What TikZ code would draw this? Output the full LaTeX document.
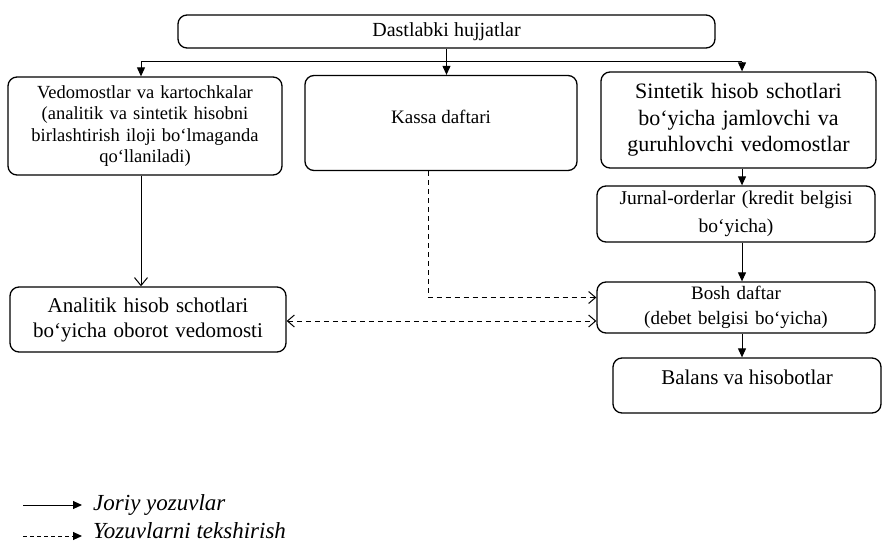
\documentclass[tikz,border=0pt]{standalone}
\usepackage{fontspec}
\setmainfont{Liberation Serif}
\usetikzlibrary{arrows.meta}

\begin{document}
\begin{tikzpicture}[x=1pt, y=-1pt,
    box/.style={draw, rounded corners=9pt, line width=1.3pt, align=center, inner xsep=4pt, inner ysep=0pt},
    flow/.style={line width=1pt, -{Triangle[length=9pt,width=8pt]}},
    open/.style={line width=1pt, -{Straight Barb[length=8pt,width=13pt]}},
    check/.style={line width=1pt, dash pattern=on 5pt off 4pt, -{Straight Barb[length=7pt,width=12pt]}},
    legend/.style={anchor=base west, inner sep=0pt, font=\fontsize{23}{28}\selectfont\itshape}]
    \useasboundingbox (0,0) rectangle (883,543);

    % draw boxes
    \node[box, minimum width=537pt, minimum height=33pt, font=\fontsize{20}{24}\selectfont] (doc) at (446.5,31.5) {Dastlabki hujjatlar};
    \node[box, text width=266pt, minimum height=98pt, font=\fontsize{18.5}{21.5}\selectfont] (ved) at (145,126)
        {Vedomostlar va kartochkalar\\ (analitik va sintetik hisobni\\ birlashtirish iloji bo‘lmaganda\\ qo‘llaniladi)};
    \node[box, minimum width=272pt, text height=48pt, text depth=47pt, font=\fontsize{19}{23}\selectfont] (kassa) at (441,123) {Kassa daftari};
    \node[box, text width=267pt, minimum height=96pt, font=\fontsize{22}{26.5}\selectfont] (sint) at (738.5,120)
        {Sintetik hisob schotlari\\ bo‘yicha jamlovchi va\\ guruhlovchi vedomostlar};
    \node[box, text width=270pt, minimum height=56pt, font=\fontsize{19.5}{28}\selectfont] (jurn) at (736,214)
        {Jurnal-orderlar (kredit belgisi\\ bo‘yicha)};
    \node[box, text width=270pt, minimum height=51pt, font=\fontsize{19}{25}\selectfont] (bosh) at (736,307.5)
        {Bosh daftar\\ (debet belgisi bo‘yicha)};
    \node[box, minimum width=268pt, text height=26pt, text depth=29pt, font=\fontsize{21}{25}\selectfont] (bal) at (747,385.5) {Balans va hisobotlar};
    \node[box, text width=268pt, minimum height=65pt, font=\fontsize{21}{25}\selectfont] (anal) at (148,319.5)
        {Analitik hisob schotlari\\ bo‘yicha oborot vedomosti};

    % columns and the distribution line
    \coordinate (bus) at (0,62);
    \coordinate (c1) at (141,0);
    \coordinate (c3) at (742,0);

    % draw current postings
    \draw[line width=1pt] (doc.south) -- (doc.south |- bus);
    \draw[line width=1pt] (c1 |- bus) -- (c3 |- bus);
    \draw[flow] (c1 |- bus) -- (c1 |- ved.north);
    \draw[flow] (doc.south |- bus) -- (doc.south |- kassa.north);
    \draw[flow] (c3 |- bus) -- (c3 |- sint.north);
    \draw[flow] (c3 |- sint.south) -- (c3 |- jurn.north);
    \draw[flow] (c3 |- jurn.south) -- (c3 |- bosh.north);
    \draw[flow] (c3 |- bosh.south) -- (c3 |- bal.north);
    \draw[open] (c1 |- ved.south) -- (c1 |- anal.north);

    % draw checks
    \draw[check] ([xshift=-13pt]kassa.south) |- ([yshift=10pt]bosh.west);
    \draw[check, {Straight Barb[length=7pt,width=12pt]}-{Straight Barb[length=7pt,width=12pt]}] ([yshift=-1.5pt]anal.east) -- ([yshift=-1.5pt]anal.east -| bosh.west);

    % legend
    \node[legend] (joriy) at (93,510) {Joriy yozuvlar};
    \node[legend] (tekshir) at (93,538) {Yozuvlarni tekshirish};
    \draw[flow] ([xshift=-70pt,yshift=5pt]joriy.base west) -- ([xshift=-11pt,yshift=5pt]joriy.base west);
    \draw[flow, dash pattern=on 4pt off 3pt] ([xshift=-70pt,yshift=2pt]tekshir.base west) -- ([xshift=-11pt,yshift=2pt]tekshir.base west);
\end{tikzpicture}
\end{document}
